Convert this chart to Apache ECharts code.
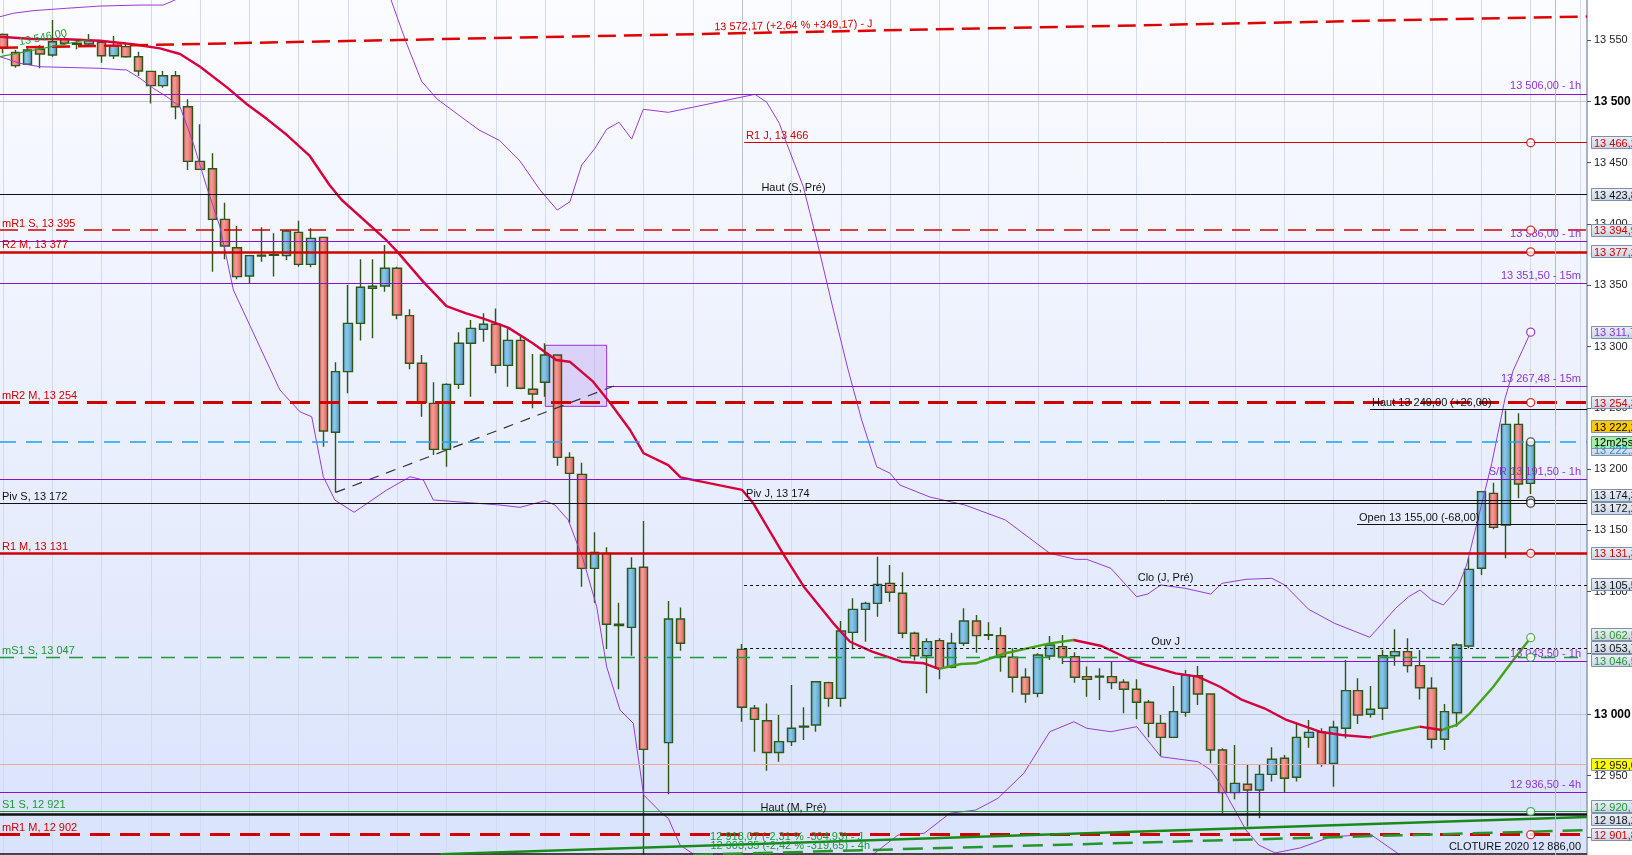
<!DOCTYPE html>
<html><head><meta charset="utf-8">
<script src="https://cdn.jsdelivr.net/npm/echarts@6/dist/echarts.min.js"></script>
<style>html,body{margin:0;padding:0;background:#fff}#c{width:1632px;height:855px}</style>
</head><body><div id="c"></div><script>
const FONT = '"Liberation Sans", Arial, Helvetica, sans-serif';

// ---------------- DATA ----------------
const candleIdx = [0,1,2,3,4,5,6,7,8,9,10,11,12,13,14,15,16,17,18,19,20,21,22,23,24,25,26,27,28,29,30,31,32,33,34,35,36,37,38,39,40,41,42,43,44,45,46,47,48,49,50,51,52,54,55,60,61,62,63,64,65,66,67,68,69,70,71,72,73,74,75,76,77,78,79,80,81,82,83,84,85,86,87,88,89,90,91,92,93,94,95,96,97,98,99,100,101,102,103,104,105,106,107,108,109,110,111,112,113,114,115,116,117,118,119,120,121,122,123,124];
const opens  = [13554.6,13539.9,13530.2,13542.4,13537.8,13550.5,13547.3,13546.7,13548.1,13537.2,13544.6,13536.4,13524.4,13512.8,13520.9,13495.6,13451.0,13445.0,13403.7,13380.6,13357.5,13374.4,13374.9,13374.1,13393.1,13367.0,13389.0,13230.0,13279.5,13318.9,13347.5,13349.4,13363.8,13325.2,13286.3,13253.6,13216.1,13269.1,13302.6,13314.0,13318.1,13284.6,13305.0,13265.1,13270.8,13293.1,13209.6,13195.7,13119.0,13131.3,13073.4,13070.9,13119.9,12976.9,13077.7,13053.0,13004.9,12994.8,12968.9,12977.7,12989.6,12991.3,13025.8,13013.0,13066.8,13085.6,13090.5,13106.8,13098.7,13066.1,13047.8,13060.1,13038.3,13057.9,13076.1,13065.0,13064.2,13046.5,13030.2,13017.1,13047.6,13055.2,13047.0,13030.7,13031.0,13030.7,13026.1,13020.4,13009.8,12992.6,12981.2,13001.6,13031.5,13016.6,12970.9,12936.1,12942.9,12938.3,12951.0,12964.1,12948.6,12981.2,12985.3,12960.0,12988.6,13019.3,13000.0,13004.9,13047.8,13051.1,13039.7,13021.2,12979.6,13001.3,13055.7,13119.1,13180.2,13154.4,13236.5,13188.4];
const closes = [13543.2,13529.1,13541.8,13538.6,13548.6,13547.3,13546.5,13549.5,13537.2,13545.1,13536.4,13524.7,13512.8,13520.9,13495.6,13451.0,13444.5,13403.7,13382.0,13357.0,13374.1,13373.8,13374.4,13394.2,13367.0,13388.2,13231.1,13279.5,13318.9,13348.3,13349.1,13363.8,13325.7,13286.3,13254.2,13216.1,13269.1,13302.6,13314.8,13318.1,13284.6,13305.0,13265.9,13261.3,13293.1,13209.6,13196.5,13119.0,13132.1,13073.4,13072.3,13119.0,12971.4,13077.7,13057.9,13005.7,12995.9,12968.9,12977.7,12988.6,12990.2,13026.6,13013.0,13067.9,13085.6,13090.5,13106.0,13099.5,13066.1,13047.8,13059.3,13037.5,13057.9,13076.1,13064.2,13064.4,13047.0,13030.2,13016.6,13048.4,13056.5,13046.5,13030.2,13028.5,13030.4,13025.8,13020.4,13009.8,12992.6,12981.2,13002.2,13032.1,13016.6,12970.9,12936.1,12943.7,12938.3,12951.0,12963.3,12947.8,12981.2,12985.3,12959.2,12989.4,13019.3,12999.4,13004.1,13047.8,13051.1,13039.7,13021.7,12979.6,13002.2,13056.5,13118.2,13181.6,13152.5,13236.5,13187.8,13222.2];
const lows   = [13539.1,13527.4,13529.6,13526.9,13536.4,13545.9,13542.4,13545.9,13531.5,13534.5,13535.6,13520.6,13498.3,13511.1,13485.3,13444.0,13444.0,13361.0,13371.1,13354.8,13351.0,13369.2,13357.0,13370.6,13365.1,13364.6,13218.3,13181.0,13261.8,13304.8,13306.7,13344.7,13322.2,13281.4,13242.8,13211.5,13202.0,13265.3,13259.1,13303.9,13278.1,13267.2,13265.1,13249.6,13259.1,13202.8,13156.3,13104.1,13091.0,13053.3,13020.4,13047.8,12870.0,12934.7,13051.9,12994.0,12969.5,12954.0,12961.3,12974.2,12979.0,12985.8,13006.2,13006.2,13053.0,13059.2,13079.6,13091.9,13062.0,13043.8,13017.1,13028.5,13037.5,13055.7,13050.3,13060.6,13034.8,13017.7,13009.5,13013.9,13044.3,13041.0,13025.8,13014.4,13011.7,13020.4,13000.8,12995.9,12981.2,12966.0,12981.2,12998.1,13007.6,12960.0,12919.2,12930.7,12908.4,12915.2,12945.1,12936.1,12945.1,12972.8,12957.3,12941.0,12980.4,12992.1,12997.3,12995.4,13039.7,13034.0,13012.0,12972.2,12970.9,12989.9,13053.8,13113.6,13150.9,13127.2,13176.2,13179.7];
const highs  = [13555.4,13541.8,13543.2,13545.9,13566.3,13552.2,13550.5,13554.9,13550.0,13553.3,13547.8,13540.5,13525.0,13524.7,13524.7,13501.6,13481.2,13457.6,13417.3,13398.3,13374.6,13397.2,13392.3,13395.0,13402.6,13396.4,13389.6,13287.1,13350.2,13371.1,13371.1,13382.8,13365.1,13330.3,13293.1,13270.8,13270.0,13311.6,13321.6,13327.1,13331.1,13314.8,13308.0,13293.9,13302.6,13293.6,13213.7,13205.2,13148.4,13136.2,13091.0,13128.1,13157.7,13092.4,13087.2,13057.3,13007.6,13008.9,12999.4,13023.9,13005.7,13027.2,13026.6,13076.1,13094.6,13091.9,13128.6,13121.8,13115.8,13067.4,13062.0,13062.0,13066.6,13086.5,13081.0,13075.0,13071.0,13053.8,13037.5,13049.7,13063.9,13064.7,13050.6,13038.9,13037.5,13042.9,13028.5,13028.5,13011.7,12999.4,13023.1,13036.2,13039.4,13017.1,12972.3,12975.0,12958.7,12959.5,12973.1,12966.8,12993.2,12995.4,12988.6,12994.8,13044.3,13029.4,13023.1,13052.5,13069.3,13062.0,13052.5,13030.2,13008.4,13057.9,13128.0,13182.1,13188.9,13247.7,13245.5,13222.2];

// moving average read at points [bar position, value]
const maLine = [[-0.24,13552.7],[2.44,13550.8],[5.19,13550.6],[7.87,13549.4],[10.55,13546.5],[12.74,13543.2],[14.37,13538.6],[16.0,13528.2],[18.18,13511.4],[19.8,13497.6],[21.43,13485.5],[23.05,13472.5],[24.9,13455.4],[26.5,13431.7],[27.5,13419.5],[31.1,13386.9],[32.0,13377.4],[34.1,13352.9],[36.0,13333.0],[37.6,13327.1],[39.0,13322.7],[41.0,13315.4],[43.0,13302.6],[44.9,13289.0],[46.0,13287.6],[47.9,13271.3],[49.3,13253.7],[50.9,13231.9],[52.0,13212.9],[54.0,13203.3],[55.0,13193.3],[60.0,13183.0],[60.9,13172.1],[63.3,13131.3],[65.0,13104.1],[67.4,13074.2],[68.75,13059.2],[70.55,13051.1],[72.96,13042.9],[74.76,13041.6],[75.96,13037.0],[77.76,13041.0],[78.96,13041.6],[81.36,13049.8],[84.97,13057.9],[86.9,13060.6],[89.17,13055.7],[91.57,13044.3],[92.78,13040.2],[95.18,13033.4],[96.98,13030.7],[98.78,13022.5],[100.58,13011.7],[102.38,13004.9],[104.18,12995.4],[106.88,12985.8],[108.68,12983.1],[110.94,12981.2],[112.59,12985.0],[115.0,12989.9],[116.78,12987.2],[118.0,12991.3],[119.07,13000.8],[120.97,13022.5],[122.59,13044.3],[124.0,13062.5]];
const maTurns = [76, 86.9, 111, 115, 116.8];   // positions where MA colour flips (red first)

const bbUpper = [[-0.24,13569.0],[0.84,13571.8],[2.44,13573.9],[5.19,13575.9],[7.87,13577.7],[11.12,13578.5],[13.0,13578.5],[13.96,13582.6],[20,13625],[27,13625],[31.5,13582.6],[32.7,13548.7],[33.97,13516.4],[35.23,13501.9],[36.93,13489.2],[38.64,13476.6],[40.31,13468.0],[41.96,13451.3],[43.59,13427.7],[44.99,13411.3],[46.02,13418.1],[46.97,13448.0],[48.05,13461.7],[49.0,13477.2],[50.0,13482.9],[51.03,13469.2],[51.97,13493.5],[54.0,13491.0],[61.04,13505.7],[61.99,13499.2],[63.01,13482.1],[63.61,13465.7],[64.96,13430.3],[66.05,13386.9],[67.34,13332.2],[68.59,13281.2],[69.7,13240.0],[70.92,13201.9],[72.0,13196.6],[72.8,13187.0],[75.24,13177.2],[78.08,13170.7],[81.36,13158.5],[84.97,13131.3],[87.07,13126.4],[87.97,13126.4],[89.92,13119.1],[92.02,13095.9],[92.92,13098.1],[93.98,13105.5],[95.93,13102.8],[98.03,13098.1],[98.93,13106.8],[100.89,13110.1],[102.99,13110.9],[104.03,13105.5],[105.98,13085.6],[108.08,13074.2],[110.94,13062.8],[113.04,13086.5],[114.09,13095.9],[115.02,13101.4],[115.97,13093.2],[116.91,13089.2],[118.03,13101.9],[118.8,13121.8],[120.84,13204.7],[121.92,13257.7],[122.59,13280.7],[124.0,13311.7]];
const bbLower = [[-0.24,13536.4],[1.38,13531.0],[3.0,13528.2],[7.87,13526.9],[10.04,13525.5],[11.12,13518.8],[12.2,13510.6],[13.29,13503.8],[14.37,13495.6],[15.45,13465.7],[16.53,13430.3],[17.61,13397.7],[18.7,13346.1],[22.48,13264.5],[24.1,13246.8],[25.06,13242.7],[26.0,13193.8],[26.95,13174.6],[28.5,13164.8],[31.14,13182.9],[33.04,13193.8],[34.12,13191.1],[34.93,13174.8],[40.34,13170.7],[41.96,13168.8],[43.99,13174.2],[44.8,13170.7],[45.88,13158.5],[47.1,13125.9],[48.19,13087.8],[49.0,13038.8],[50.08,13003.5],[51.16,12992.7],[52.0,12934.2],[53.47,12919.3],[54.0,12915.2],[54.95,12893.4],[56.03,12886.0],[62,12845],[70.55,12885.2],[72.65,12901.6],[74.76,12902.9],[76.86,12919.3],[78.96,12921.9],[80.76,12931.5],[82.86,12951.9],[84.97,12985.8],[86.92,12993.9],[87.97,12988.6],[89.92,12985.8],[92.02,12989.9],[93.98,12965.4],[96.98,12961.4],[98.03,12954.6],[98.93,12941.0],[100.89,12905.6],[101.93,12893.4],[103.25,12886.9],[105.28,12891.0],[107.7,12899.8],[110.96,12902.4],[113.0,12888.0],[115.0,12873],[124,12860]];

// y tick labels
const yTicks = [12900,12950,13000,13050,13100,13150,13200,13250,13300,13350,13400,13450,13500,13550];
const yBold = [13000,13500];

// horizontal levels
const levelValues = [13506,13466.2,13423.8,13394.9,13386,13377.2,13351.5,13267.48,13254.3,13249,13222.2,13191.5,13174.3,13172.2,13155,13131.3,13105.5,13053.7,13046.5,13043.5,12959,12936.5,12920.7,12918.2,12901.8,12886];
const levelLabels = ['13 506,00 - 1h','R1 J, 13 466','Haut (S, Pré)','mR1 S, 13 395','13 386,00 - 1h','R2 M, 13 377','13 351,50 - 15m','13 267,48 - 15m','mR2 M, 13 254','Haut 13 249,00 (+26,00)','','S/R 13 191,50 - 1h','Piv J, 13 174','Piv S, 13 172','Open 13 155,00 (-68,00)','R1 M, 13 131','Clo (J, Pré)','Ouv J','mS1 S, 13 047','13 043,50 - 1h','','12 936,50 - 4h','S1 S, 12 921','Haut (M, Pré)','mR1 M, 12 902','CLOTURE 2020 12 886,00'];
const levelStarts = [null,60.15,null,null,null,null,null,49.0,null,110.96,null,null,60.15,null,109.9,null,60.15,60.15,null,86.0,null,null,null,null,null,null];

// sloped trend lines [start point, end point]
const trendTopJ   = [[-0.243,13543.6],[128.57,13569.2]];
const trendLowJ   = [[35.5,12885.9],[128.57,12916.3]];
const trendLow4h  = [[56,12885.3],[128.57,12905.5]];
const trendDashed = [[27,13181],[49.8,13268.6]];
const trendShort  = [[-0.243,13536.4],[7.06,13550.6]];
const trendLabels = ['13 572,17 (+2,64 % +349,17) - J','12 918,07 (-2,31 % -304,93) - J','12 903,35 (-2,42 % -319,65) - 4h','13 546,00'];
const trendLabelAt = [null,[63.6,12900.2],[63.9,12892.8],null];

const zoneBox = [[44.02,13301],[49.0,13251.2]];

const circleValues = [13466.2,13394.9,13377.2,13311.7,13254.3,13222.2,13174.3,13172.2,13131.3,13062.5,13046.5,12920.7,12901.8];
const circleBar = 124;
const nowBar = 126;
const sessionBar = 60;

const boxValues = [13466.2,13423.8,13394.9,13377.2,13311.7,13254.3,13174.3,13172.2,13131.3,13105.5,13062.5,13053.7,13046.5,12959.0,12920.7,12918.2,12901.8];
const lastPrice = 13222.2;
const timerText = '12m25s';

// ---------------- STYLE ----------------
const PUR='#8a12cc', PUR_T='#8e34d6', RED='#d10000', RED_T='#d40000', BLK='#111111', GRN='#1f9b3a', GRN_T='#1b9a32', BLUE='#1aa2f0', PINK='#f2a3a3';
const MA_RED='#d6003c', MA_GRN='#45a317', BAND='#9a3bd8';
const levelStyles = [
 {c:PUR,w:1.2,p:'e',lc:PUR_T},{c:RED,w:1,p:'s',lc:RED_T},{c:BLK,w:1,p:'m'},{c:RED,w:1.5,t:[18,10],p:'s',lc:RED_T},
 {c:PUR,w:1.2,p:'e',lc:PUR_T},{c:RED,w:2.5,p:'s',lc:RED_T},{c:PUR,w:1.2,p:'e',lc:PUR_T},{c:PUR,w:1.2,p:'e',lc:PUR_T},
 {c:RED,w:3,t:[20,9],p:'s',lc:RED_T},{c:BLK,w:1,p:'s'},{c:BLUE,w:1.5,t:[16,10]},{c:PUR,w:1.2,p:'e',lc:PUR_T},
 {c:BLK,w:1,p:'s'},{c:BLK,w:1,p:'s'},{c:BLK,w:1,p:'s'},{c:RED,w:2.5,p:'s',lc:RED_T},
 {c:BLK,w:1,t:[3,3],p:'m'},{c:BLK,w:1,t:[3,3],p:'m'},{c:GRN,w:1.3,t:[14,9],p:'s',lc:GRN_T},{c:PUR,w:1.2,p:'e',lc:PUR_T},
 {c:PINK,w:1},{c:PUR,w:1.2,p:'e',lc:PUR_T},{c:GRN,w:1.2,p:'s',lc:GRN_T},{c:BLK,w:2.5,p:'m'},
 {c:RED,w:3,t:[20,10],p:'s',lc:RED_T},{c:BLK,w:1.5,p:'e'}
];
const circleColors = [RED,RED,RED,PUR,RED,'#333',BLK,BLK,RED,'#3f9d1a',GRN,GRN,RED];
const boxColors = [RED_T,BLK,RED_T,RED_T,PUR_T,RED_T,BLK,BLK,RED_T,BLK,'#2a9a1a',BLK,GRN_T,BLK,GRN_T,BLK,RED_T];
const boxFills = {13: '#ffff00'};

const X_MIN=-0.243, X_MAX=128.57;
const Y_MIN=12885.24, Y_MAX=13582.63;
const fmtInt = v => String(Math.round(v)).replace(/\B(?=(\d{3})+(?!\d))/g,' ');
const fmtDec = (v,d) => { const s=v.toFixed(d).split('.'); return s[0].replace(/\B(?=(\d{3})+(?!\d))/g,' ')+','+s[1]; };

const chart = echarts.init(document.getElementById('c'), null, {width:1632, height:855});

const candleData = candleIdx.map((x,k)=>[x, opens[k], closes[k], lows[k], highs[k]]);

const posMap = {s:'insideStartTop', e:'insideEndTop', m:'insideMiddleTop'};
const levelItems = levelValues.map((v,k)=>{
  const s = levelStyles[k];
  const ls = {color:s.c, width:s.w, type:s.t||'solid'};
  const lab = levelLabels[k] ? {show:true, formatter:levelLabels[k], position:posMap[s.p], color:s.lc||s.c,
      fontSize:11, fontFamily:FONT, distance: s.p==='e'?[6,2]:(s.p==='s'?[2,1]:1)} : {show:false};
  if (levelStarts[k]==null) return {yAxis:v, lineStyle:ls, label:lab};
  return [{coord:[levelStarts[k], v], lineStyle:ls, label:lab},{coord:[X_MAX, v]}];
});
const seg = (pts, ls, lab) => [{coord:pts[0], lineStyle:ls, label:lab||{show:false}},{coord:pts[1]}];
const trendItems = [
  seg(trendTopJ, {color:'#e00000', width:2.5, type:[18,8]}, {show:true, formatter:trendLabels[0], position:'insideMiddleTop', color:RED_T, fontSize:11, fontFamily:FONT, distance:1}),
  seg(trendLowJ, {color:'#188a18', width:2.5, type:'solid'}),
  seg(trendLow4h, {color:'#25962a', width:2.5, type:[20,10]}),
  seg(trendDashed, {color:'#333', width:1.2, type:[10,8]}),
  seg(trendShort, {color:'#2aa02a', width:1.2, type:'solid'}, {show:true, formatter:trendLabels[3], position:'middle', color:GRN_T, fontSize:11, fontFamily:FONT})
];
const trendLabelPoints = trendLabelAt.map((c,k)=> c ? {coord:c, symbolSize:0,
   label:{show:true, position:'inside', formatter:trendLabels[k], color:GRN_T, fontSize:11, fontFamily:FONT}} : null).filter(Boolean);

const gridCols = []; for (let i=0;i<=128;i+=4) gridCols.push({xAxis:i});
const majorRows = yBold.map(v=>({yAxis:v}));

const maPieces = [];
{ const b=[-Infinity].concat(maTurns).concat([Infinity]);
  for (let k=0;k<b.length-1;k++){ const p={color: k%2===0?MA_RED:MA_GRN}; if(b[k]>-Infinity)p.gte=b[k]; if(b[k+1]<Infinity)p.lt=b[k+1]; maPieces.push(p);} }

const upGrad = {type:'linear',x:0,y:0,x2:1,y2:0,colorStops:[{offset:0,color:'#5aa4d4'},{offset:0.4,color:'#8cc8ea'},{offset:1,color:'#4e94c6'}]};
const dnGrad = {type:'linear',x:0,y:0,x2:1,y2:0,colorStops:[{offset:0,color:'#e6625f'},{offset:0.4,color:'#f59b97'},{offset:1,color:'#de5855'}]};

chart.setOption({
  animation:false,
  textStyle:{fontFamily:FONT},
  grid:{left:0, right:45, top:0, bottom:0, show:true, borderWidth:0, outerBoundsMode:'none', containLabel:false,
    backgroundColor:{type:'linear',x:0,y:0,x2:0,y2:1,colorStops:[{offset:0,color:'#fbfcff'},{offset:1,color:'#d9e3fb'}]}},
  xAxis:{type:'value', min:X_MIN, max:X_MAX, show:false, splitLine:{show:false}},
  yAxis:{type:'value', position:'right', min:Y_MIN, max:Y_MAX,
    axisLine:{show:true, onZero:false, lineStyle:{color:'#8c9cb4', width:1.5}},
    axisTick:{show:true, length:4, customValues:yTicks, lineStyle:{color:'#555'}},
    splitLine:{show:false},
    axisLabel:{margin:7, fontSize:11, color:'#222', fontFamily:FONT, customValues:yTicks,
      formatter: v => (yBold.indexOf(Math.round(v))>=0) ? '{b|'+fmtInt(v)+'}' : fmtInt(v),
      rich:{b:{fontWeight:'bold', fontSize:12, color:'#000', fontFamily:FONT}}}},
  visualMap:[{type:'piecewise', show:false, dimension:0, seriesIndex:4, pieces:maPieces}],
  series:[
    {type:'line', data:[], z:1, silent:true,
      markLine:{silent:true, z:1, symbol:['none','none'], label:{show:false},
        data: gridCols.map(d=>Object.assign({lineStyle:{color:'#d2daee',width:1,type:'solid'}},d))
          .concat(majorRows.map(d=>Object.assign({lineStyle:{color:'#bfc7d6',width:1,type:'solid'}},d)))
          .concat([{xAxis:sessionBar, lineStyle:{color:'#b9c1d4',width:1,type:'solid'}}])},
      markArea:{silent:true, z:2, itemStyle:{color:'rgba(185,150,240,0.35)', borderColor:'#9a30d0', borderWidth:1},
        data:[[{coord:zoneBox[0]},{coord:zoneBox[1]}]]}},
    {type:'candlestick', data:candleData, encode:{x:0,y:[1,2,3,4]}, barWidth:9, z:3, clip:true,
      itemStyle:{color:upGrad, color0:dnGrad, borderColor:'#2c5716', borderColor0:'#2c5716', borderWidth:1.4}},
    {type:'line', data:bbUpper, showSymbol:false, symbol:'none', z:4, lineStyle:{color:BAND, width:1}},
    {type:'line', data:bbLower, showSymbol:false, symbol:'none', z:4, lineStyle:{color:BAND, width:1}},
    {type:'line', data:maLine, showSymbol:false, symbol:'none', z:4, lineStyle:{width:2.4}},
    {type:'line', data:[], z:6, silent:true,
      markLine:{silent:true, z:6, symbol:['none','none'], data: levelItems.concat(trendItems).concat([{xAxis:nowBar, lineStyle:{color:'#f4a2a2',width:1,type:'solid'}, label:{show:false}}])},
      markPoint:{silent:true, z:7, symbol:'circle', symbolSize:0, data:trendLabelPoints}},
    {type:'scatter', z:8, symbol:'circle', symbolSize:8, silent:true,
      data: circleValues.map((v,k)=>({value:[circleBar,v], itemStyle:{color:'#fff', borderColor:circleColors[k], borderWidth:1.3}}))}
  ]
});

// ---- right-axis value boxes ----
const yPix = v => chart.convertToPixel({yAxisIndex:0}, v);
const BOX_H = 13;
const boxGrad = {type:'linear',x:0,y:0,x2:0,y2:1,colorStops:[{offset:0,color:'#eef2f8'},{offset:1,color:'#c7d2e2'}]};
function boxEls(cy, text, color, fill){
  return [
    {type:'rect', z:100, shape:{x:1591.5, y:Math.round(cy-BOX_H/2)+0.5, width:60, height:BOX_H-1}, style:{fill:fill||boxGrad, stroke:'#7f91aa', lineWidth:1}},
    {type:'text', z:101, x:1594, y:Math.round(cy)+0.5, style:{text:text, fill:color, font:'11px '+FONT, textVerticalAlign:'middle', verticalAlign:'middle', textAlign:'left', align:'left'}}
  ];
}
const items = boxValues.map((v,k)=>({k, y:yPix(v)})).sort((a,b)=>a.y-b.y);
let groups = items.map(it=>({items:[it]}));
const gMean = g => g.items.reduce((s,it)=>s+it.y,0)/g.items.length;
let merged=true;
while(merged){ merged=false;
  for(let g=0;g<groups.length-1;g++){
    const a=groups[g], b=groups[g+1];
    if (gMean(a)+a.items.length*BOX_H/2 > gMean(b)-b.items.length*BOX_H/2+0.01){ a.items=a.items.concat(b.items); groups.splice(g+1,1); merged=true; break; }
  }
}
const els = [];
groups.forEach(g=>{
  const top = gMean(g) - g.items.length*BOX_H/2;
  g.items.forEach((it,j)=>{
    const v = boxValues[it.k];
    els.push(...boxEls(top+BOX_H/2+j*BOX_H, fmtDec(v,2), boxColors[it.k], boxFills[it.k]));
  });
});
const ly = yPix(lastPrice);
els.push(...boxEls(ly+8, fmtDec(lastPrice,2), '#1a8fe0'));
els.push(...boxEls(ly+0.5, timerText, '#000', '#a2f0a2'));
els.push(...boxEls(ly-15, fmtDec(lastPrice,2), '#000', '#ffc900'));
chart.setOption({graphic: els});
</script></body></html>
